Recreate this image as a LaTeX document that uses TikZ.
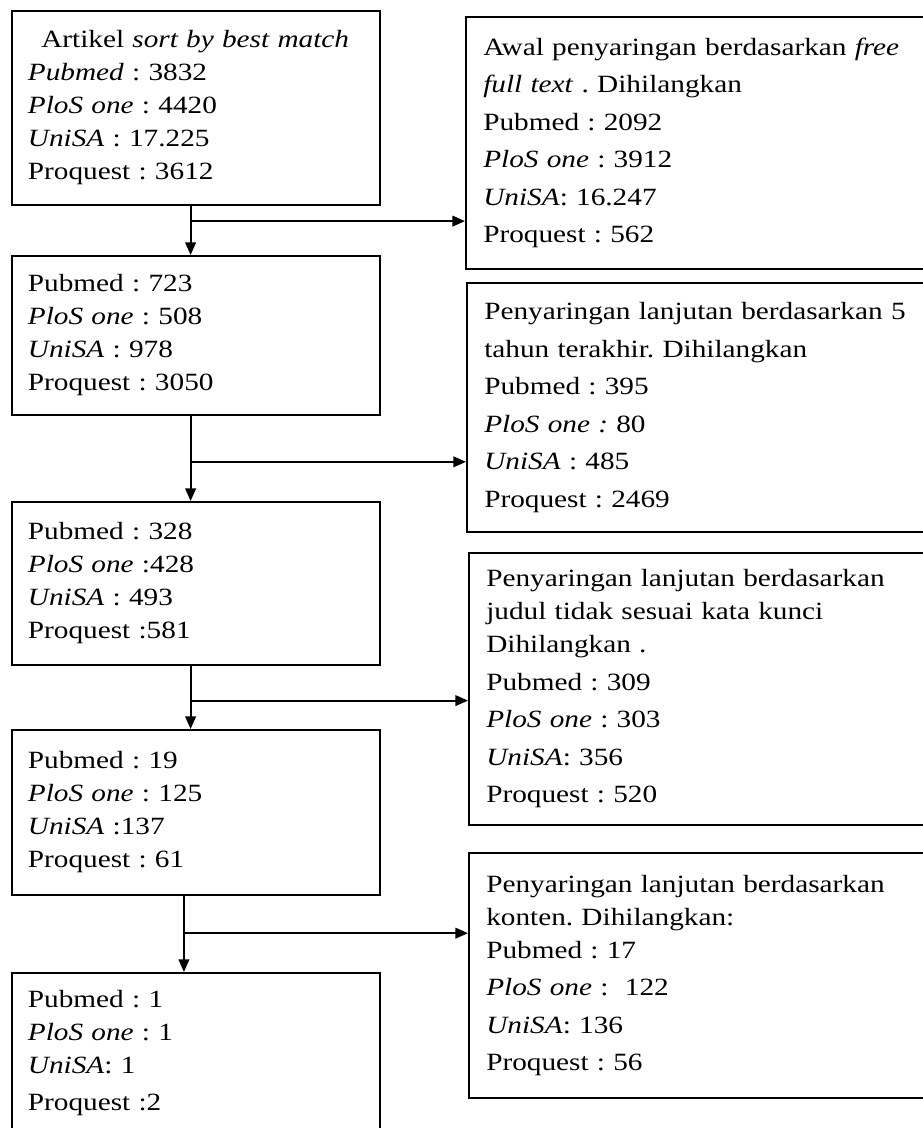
\documentclass[tikz,border=0pt]{standalone}
\usepackage{fontspec}
\setmainfont{Liberation Serif}[FakeStretch=1.18]
\usetikzlibrary{arrows.meta,calc}
\frenchspacing

\begin{document}
\begin{tikzpicture}[x=0.75pt,y=-0.75pt,->,>={Triangle[length=9.5pt,width=8pt]},
 			line width=1.4pt,
 			box/.style={->,draw,anchor=north west,align=left,inner xsep=12pt,
 				text width=252pt,minimum width=276pt,
 				font=\fontsize{18.6pt}{24.75pt}\selectfont},
 			rbox/.style={box,inner xsep=12.75pt,text width=334pt,minimum width=360pt}]
 			
 			\useasboundingbox (0,0) rectangle (923,1128);
 			
 			% left column
 			\node[box,minimum height=145.5pt] (A) at (11,10)
 				{\hspace*{10pt}Artikel \textit{sort by best match}\\
 				\textit{Pubmed} : 3832\\
 				\textit{PloS one} : 4420\\
 				\textit{UniSA} : 17.225\\
 				Proquest : 3612\\[4pt]};
 			\node[box,minimum height=119.25pt] (B) at (11,255)
 				{Pubmed : 723\\
 				\textit{PloS one} : 508\\
 				\textit{UniSA} : 978\\
 				Proquest : 3050};
 			\node[box,minimum height=122.25pt] (C) at (11,501)
 				{Pubmed : 328\\
 				\textit{PloS one} :428\\
 				\textit{UniSA} : 493\\
 				Proquest :581};
 			\node[box,minimum height=123.75pt] (D) at (11,729)
 				{Pubmed : 19\\
 				\textit{PloS one} : 125\\
 				\textit{UniSA} :137\\
 				Proquest : 61};
 			\node[box,minimum height=120pt] (E) at (11,972)
 				{Pubmed : 1\\
 				\textit{PloS one} : 1\\
 				\textit{UniSA}: 1\\[3pt]
 				Proquest :2};
 			
 			% right column
 			\node[rbox,minimum height=189pt] (F) at (465,16)
 				{Awal penyaringan berdasarkan \textit{free}\\[3.4pt]
 				\textit{full text} . Dihilangkan\\[3.4pt]
 				Pubmed : 2092\\[3.4pt]
 				\textit{PloS one} : 3912\\[3.4pt]
 				\textit{UniSA}: 16.247\\[3.4pt]
 				Proquest : 562};
 			\node[rbox,minimum height=186.75pt] (G) at (466,282)
 				{Penyaringan lanjutan berdasarkan 5\\[3.4pt]
 				tahun terakhir. Dihilangkan\\[3.4pt]
 				Pubmed : 395\\[3.4pt]
 				\textit{PloS one :} 80\\[3.4pt]
 				\textit{UniSA} : 485\\[3.4pt]
 				Proquest : 2469};
 			\node[rbox,minimum height=204pt] (H) at (468,552)
 				{Penyaringan lanjutan berdasarkan\\
 				judul tidak sesuai kata kunci\\
 				Dihilangkan .\\[3.4pt]
 				Pubmed : 309\\[3.4pt]
 				\textit{PloS one} : 303\\[3.4pt]
 				\textit{UniSA}: 356\\[3.4pt]
 				Proquest : 520};
 			\node[rbox,minimum height=183.75pt] (I) at (468,852)
 				{Penyaringan lanjutan berdasarkan\\
 				konten. Dihilangkan:\\
 				Pubmed : 17\\[3.4pt]
 				\textit{PloS one} :\ \ 122\\[3.4pt]
 				\textit{UniSA}: 136\\[3.4pt]
 				Proquest : 56\\[4pt]};
 			
 			% flow arrows
 			\draw ([xshift=-4pt]A.south) -- ([xshift=-4pt]B.north);
 			\draw ([xshift=-4pt]B.south) -- ([xshift=-4pt]C.north);
 			\draw ([xshift=-4pt]C.south) -- ([xshift=-4pt]D.north);
 			\draw ([xshift=-9pt]D.south) -- ([xshift=-9pt]E.north);
 			
 			\coordinate (ab) at ($([xshift=-4pt]A.south)!0.31!([xshift=-4pt]B.north)$);
 			\coordinate (bc) at ($([xshift=-4pt]B.south)!0.54!([xshift=-4pt]C.north)$);
 			\coordinate (cd) at ($([xshift=-4pt]C.south)!0.55!([xshift=-4pt]D.north)$);
 			\coordinate (de) at ($([xshift=-9pt]D.south)!0.49!([xshift=-9pt]E.north)$);
 			\draw (ab) -- (ab -| F.west);
 			\draw (bc) -- (bc -| G.west);
 			\draw (cd) -- (cd -| H.west);
 			\draw (de) -- (de -| I.west);
 		\end{tikzpicture}
\end{document}
